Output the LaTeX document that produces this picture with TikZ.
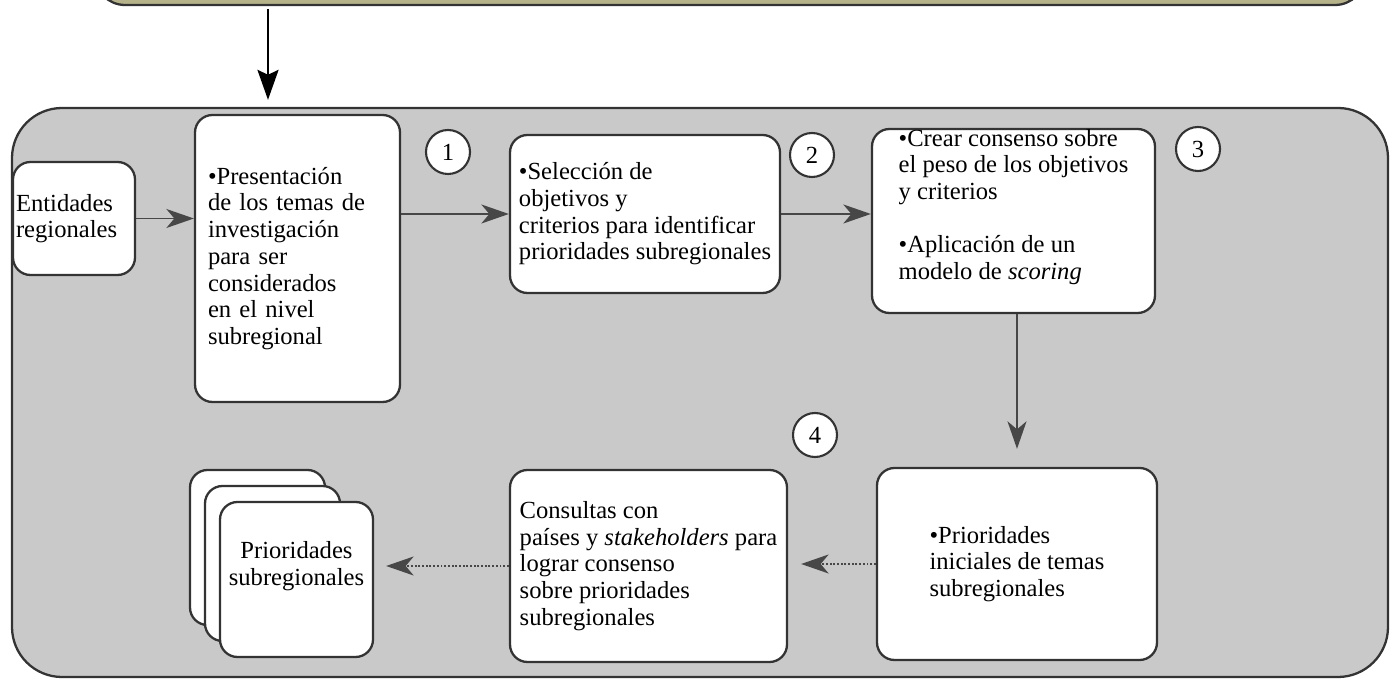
\documentclass[tikz,border=0pt]{standalone}
\usepackage{fontspec}
\setmainfont{Liberation Serif}
\usetikzlibrary{arrows.meta, calc, positioning}
\definecolor{fondo}{gray}{0.79}
\definecolor{franja}{RGB}{182,178,138}
\definecolor{trazo}{gray}{0.2}
\newcommand{\drawf}{\draw[flecha]}

\begin{document}
\begin{tikzpicture}[>={Stealth[length=0.55cm,width=0.38cm,inset=0.16cm]},
  font=\fontsize{14}{15.2}\selectfont,
  caja/.style={draw=trazo, line width=1.3pt, rounded corners=0.35cm, fill=white, align=left, inner ysep=0pt},
  numero/.style={circle, draw=trazo, line width=1.2pt, fill=white, minimum size=0.88cm, inner sep=0pt},
  flecha/.style={->, draw=black!72, line width=1.1pt}]
\useasboundingbox (0,0) rectangle (27.8,13.6);
\clip (0,0) rectangle (27.8,13.6);

% Franja superior y caja grande
\draw[line width=1.3pt, draw=trazo, fill=franja, rounded corners=0.6cm] (1.9,13.5) rectangle (27.3,15);
\draw[line width=1.3pt, draw=trazo, fill=fondo, rounded corners=1cm] (0.24,0.06) rectangle (27.76,11.44);

% Cajas de la fila superior
\node[caja, text width=2.32cm, inner xsep=0.06cm, minimum height=2.26cm] (ent) at (1.48,9.23) {Entidades\\regionales};
\node[caja, text width=3.58cm, inner xsep=0.26cm, minimum height=5.74cm] (pres) at (5.95,8.43)
  {•Presentación\\de los temas de\\investigación\\para ser\\considerados\\en el nivel\\subregional\\[-8pt]};
\node[caja, minimum width=5.4cm, minimum height=3.16cm] (sel) at (12.9,9.32)
  {•Selección de\\objetivos y\\criterios para identificar\\prioridades subregionales};
\node[caja, minimum width=5.66cm, minimum height=3.44cm] (crear) at (20.27,9.18)
  {•Crear consenso sobre\\el peso de los objetivos\\y criterios\\[15pt]•Aplicación de un\\modelo de \textit{scoring}\\[4pt]};

% Cajas de la fila inferior
\node[caja, minimum width=5.6cm, minimum height=3.84cm] (ini) at (20.34,2.32)
  {•Prioridades\\iniciales de temas\\subregionales};
\node[caja, minimum width=5.54cm, minimum height=3.84cm] (cons) at (12.97,2.28)
  {Consultas con\\países y \textit{stakeholders} para\\lograr consenso\\sobre prioridades\\subregionales};
\node[caja, minimum width=2.7cm, minimum height=3.1cm] (pila3) at (5.15,2.65) {};
\node[caja, minimum width=2.7cm, minimum height=3.1cm] (pila2) at (5.45,2.33) {};
\node[caja, align=center, minimum width=3.06cm, minimum height=3.1cm] (pila) at (5.93,2.01)
  {Prioridades\\subregionales\\[3pt]};

% Numeros
\node[numero] (n1) at (8.96,10.56) {1};
\node[numero] (n2) at (16.24,10.5) {2};
\node[numero] (n3) at (23.96,10.62) {3};
\node[numero] (n4) at (16.3,4.9) {4};

% Flechas
\coordinate (entrada) at (5.36,13.42);
\draw[->, line width=1.7pt, >={Stealth[length=0.6cm,width=0.42cm,inset=0.1cm]}, shorten >=0.28cm]
  (entrada) -- (entrada |- pres.north);
\drawf (ent.east) -- (ent.east -| pres.west);
\drawf (pres.east |- sel.west) -- (sel.west);
\drawf (sel.east) -- (sel.east -| crear.west);
\drawf[shorten >=0.36cm] (ini.north |- crear.south) -- (ini.north);
\drawf[densely dotted, shorten >=0.26cm] (ini.west) -- (ini.west -| cons.east);
\drawf[densely dotted, shorten >=0.24cm] (cons.west) -- (cons.west -| pila.east);

\end{tikzpicture}
\end{document}
